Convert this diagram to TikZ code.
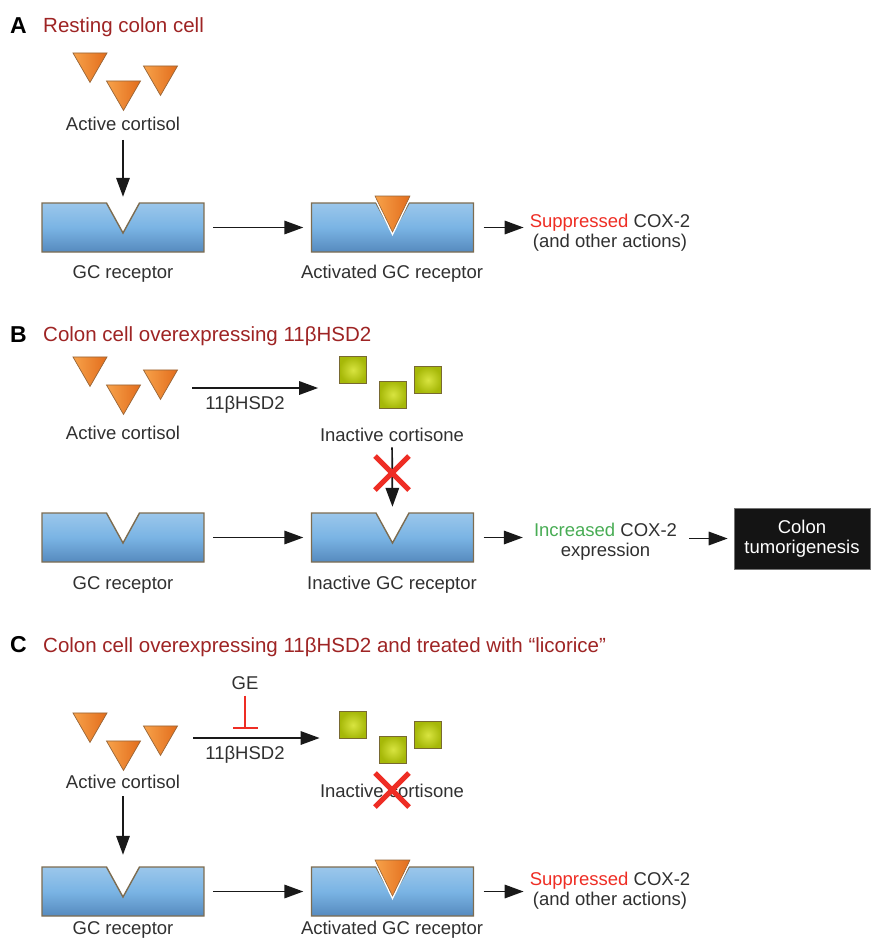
\documentclass[tikz,border=0pt]{standalone}
\usepackage{fontspec}
\setmainfont{Liberation Sans}
\usetikzlibrary{arrows.meta,shapes.geometric}

\definecolor{titlered}{RGB}{158,36,36}
\definecolor{supred}{RGB}{238,45,36}
\definecolor{incgreen}{RGB}{72,172,84}
\definecolor{txtgray}{RGB}{48,48,48}
\definecolor{recblue}{RGB}{122,180,228}
\definecolor{recbluedk}{RGB}{86,138,190}
\definecolor{recedge}{RGB}{125,108,80}
\definecolor{cortlt}{RGB}{247,162,74}
\definecolor{cortdk}{RGB}{226,108,28}
\definecolor{cortedge}{RGB}{150,100,55}
\definecolor{conelt}{RGB}{216,228,64}
\definecolor{conedk}{RGB}{166,184,8}
\definecolor{coneedge}{RGB}{120,105,50}

\begin{document}
\begin{tikzpicture}[x=1pt,y=-1pt,
    lbl/.style={font=\fontsize{18.5}{20}\selectfont, text=txtgray, inner sep=1pt,
      align=center, text depth=0pt},
    ttl/.style={font=\fontsize{20.5}{24}\selectfont, text=titlered, anchor=base west, inner sep=0pt},
    panel/.style={font=\fontsize{23}{24}\selectfont\bfseries, anchor=base west, inner sep=0pt},
    cortisol/.style={regular polygon, regular polygon sides=3, shape border rotate=180,
      minimum size=39.3pt, inner sep=0pt, draw=cortedge, line width=0.7pt,
      left color=cortlt, right color=cortdk},
    cortisone/.style={rectangle, minimum size=27pt, inner sep=0pt, draw=coneedge,
      line width=0.8pt, inner color=conelt, outer color=conedk},
    arr/.style={-{Triangle[length=19pt,width=13.5pt]}, line width=1.7pt, draw=black!90},
    inhib/.style={-{Bar[width=25pt]}, draw=supred, line width=2pt},
    cross/.style={draw=supred, line width=5pt},
    tumorbox/.style={fill=black!92, draw=black!55, line width=0.6pt, text=white,
      minimum width=136pt, minimum height=61pt, inner sep=0pt, align=center,
      font=\fontsize{18.5}{20}\selectfont},
    recfill/.style={draw=recedge, line width=1.4pt, line join=miter,
      top color=recblue!75!white, bottom color=recbluedk, middle color=recblue},
    recpath/.style={insert path={(-81,-24.5) -- (-16.5,-24.5) -- (0,5.5) -- (16.5,-24.5)
      -- (81,-24.5) -- (81,24.5) -- (-81,24.5) -- cycle}},
    bindpath/.style={insert path={(-17.5,-31.5) -- (17.5,-31.5) -- (0,4.5) -- cycle}},
    receptor/.pic={
      \path[recfill, recpath];
      \node[inner sep=0pt, minimum width=162pt, minimum height=49pt] (-body) {};
    },
    bound receptor/.pic={
      \path[recfill, recpath];
      \path[draw=white, line width=3.5pt, fill=cortdk, bindpath];
      \path[draw=cortedge, line width=0.6pt, left color=cortlt, right color=cortdk, bindpath];
      \node[inner sep=0pt, minimum width=162pt, minimum height=49pt] (-body) {};
    }]
\useasboundingbox (0,0) rectangle (872,940);

% panel titles
\node[panel] (pA) at (10,33) {A};
\node[ttl] (tA) at (43,32) {Resting colon cell};
\node[panel] (pB) at (10,342) {B};
\node[ttl] (tB) at (43,341) {Colon cell overexpressing 11βHSD2};
\node[panel] (pC) at (10,652) {C};
\node[ttl] (tC) at (43,652) {Colon cell overexpressing 11βHSD2 and treated with “licorice”};

% active cortisol
\foreach \p/\dy in {A/0,B/304,C/660}{
  \node[cortisol] (c\p1) at (90,62.8+\dy) {};
  \node[cortisol] (c\p2) at (123.5,90.8+\dy) {};
  \node[cortisol] (c\p3) at (160.5,75.8+\dy) {};
}
\node[lbl] (acA) at (123,124) {Active cortisol};
\node[lbl] (acB) at (123,433) {Active cortisol};
\node[lbl] (acC) at (123,782) {Active cortisol};

% inactive cortisone
\foreach \p/\dy in {B/0,C/355}{
  \node[cortisone] (s\p1) at (353,370+\dy) {};
  \node[cortisone] (s\p2) at (393,394.5+\dy) {};
  \node[cortisone] (s\p3) at (428,380+\dy) {};
}
\node[lbl] (icB) at (392,435) {Inactive cortisone};
\node[lbl] (icC) at (392,791) {Inactive cortisone};

% receptors
\pic (rA1) at (123,227.5) {receptor};
\pic (rA2) at (392.5,227.5) {bound receptor};
\pic (rB1) at (123,537.5) {receptor};
\pic (rB2) at (392.5,537.5) {receptor};
\pic (rC1) at (123,891.5) {receptor};
\pic (rC2) at (392.5,891.5) {bound receptor};
\node[lbl] (grA1) at (123,272) {GC receptor};
\node[lbl] (grA2) at (392,272) {Activated GC receptor};
\node[lbl] (grB1) at (123,583) {GC receptor};
\node[lbl] (grB2) at (392,583) {Inactive GC receptor};
\node[lbl] (grC1) at (123,928) {GC receptor};
\node[lbl] (grC2) at (392,928) {Activated GC receptor};

% outcomes
\node[lbl] (supA) at (610,231) {\textcolor{supred}{Suppressed} COX-2\\(and other actions)};
\node[lbl] (incB) at (605.5,539.5) {\textcolor{incgreen}{Increased} COX-2\\expression};
\node[tumorbox] (tumB) at (802,538.5) {Colon\\tumorigenesis};
\node[lbl] (supC) at (610,889) {\textcolor{supred}{Suppressed} COX-2\\(and other actions)};

% panel A arrows
\draw[arr, shorten <=8pt, shorten >=6pt] (acA) -- (rA1-body.north);
\draw[arr, shorten <=9pt, shorten >=8pt] (rA1-body) -- (rA2-body);
\draw[arr, shorten <=10pt, shorten >=5pt] (rA2-body.east) -- (rA2-body.east -| supA.west);

% panel B arrows
\coordinate (hB) at (192,388);
\draw[arr, shorten >=21pt] (hB) -- (hB -| sB1.west);
\node[lbl] (hsdB) at (245,403) {11βHSD2};
\draw[arr, shorten <=4.5pt, shorten >=6pt] (icB) -- (rB2-body.north);
\coordinate (xB) at (392,473);
\draw[cross] (xB) +(-17,-17) -- +(17,17) (xB) +(-17,17) -- +(17,-17);
\draw[arr, shorten <=9pt, shorten >=8pt] (rB1-body) -- (rB2-body);
\draw[arr, shorten <=10pt, shorten >=10pt] (rB2-body.east) -- (rB2-body.east -| incB.west);
\draw[arr, shorten <=11pt, shorten >=6pt] (incB.east |- tumB.west) -- (tumB.west);

% panel C arrows
\node[lbl] (geC) at (245,683) {GE};
\coordinate (hC) at (193,738);
\draw[arr, shorten >=19.5pt] (hC) -- (hC -| sC1.west);
\node[lbl] (hsdC) at (245,753) {11βHSD2};
\draw[inhib, shorten <=5pt, shorten >=9pt] (geC) -- (geC |- hC);
\draw[arr, shorten <=6.5pt, shorten >=12pt] (acC) -- (rC1-body.north);
\coordinate (xC) at (392,790);
\draw[cross] (xC) +(-17,-17) -- +(17,17) (xC) +(-17,17) -- +(17,-17);
\draw[arr, shorten <=9pt, shorten >=8pt] (rC1-body) -- (rC2-body);
\draw[arr, shorten <=10pt, shorten >=5pt] (rC2-body.east) -- (rC2-body.east -| supC.west);
\end{tikzpicture}
\end{document}
